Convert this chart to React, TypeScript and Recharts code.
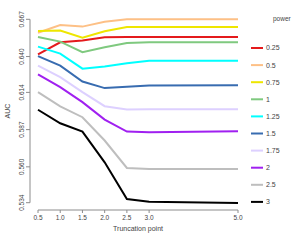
import { LineChart, Line, XAxis, YAxis, Legend, ReferenceLine } from "recharts";

const truncation = [0.5, 1, 1.5, 2, 2.5, 3, 5];
const xTicks = [0.5, 1, 1.5, 2, 2.5, 3, 5];
const yTicks = [0.534, 0.56, 0.587, 0.614, 0.64, 0.667];

const powers = ["0.25", "0.5", "0.75", "1", "1.25", "1.5", "1.75", "2", "2.5", "3"];
const colors = [
  "#E41A1C",
  "#FDC086",
  "#EEE600",
  "#7FC97F",
  "#00FFFF",
  "#386CB0",
  "#DDD0FF",
  "#A020F0",
  "#BEBEBE",
  "#000000",
];

const auc025 = [0.6416, 0.6503, 0.6517, 0.6539, 0.6541, 0.6541, 0.6541];
const auc05 = [0.6573, 0.6629, 0.6617, 0.6653, 0.667, 0.667, 0.667];
const auc075 = [0.6585, 0.6588, 0.6537, 0.6583, 0.6614, 0.6614, 0.6614];
const auc1 = [0.6541, 0.6508, 0.6432, 0.6467, 0.6498, 0.6503, 0.6503];
const auc125 = [0.6472, 0.6421, 0.6312, 0.6328, 0.6352, 0.637, 0.637];
const auc15 = [0.6403, 0.6334, 0.6219, 0.6171, 0.6181, 0.619, 0.6192];
const auc175 = [0.6334, 0.6251, 0.6142, 0.604, 0.6016, 0.6017, 0.6017];
const auc2 = [0.627, 0.6178, 0.6069, 0.5943, 0.5856, 0.5851, 0.5858];
const auc25 = [0.6142, 0.6038, 0.596, 0.5791, 0.5592, 0.5585, 0.5585];
const auc3 = [0.6014, 0.5916, 0.5856, 0.5633, 0.5367, 0.5347, 0.5338];

const series = [auc025, auc05, auc075, auc1, auc125, auc15, auc175, auc2, auc25, auc3];

const data = truncation.map((t, i) => {
  const row: Record<string, number> = { t };
  powers.forEach((p, k) => {
    row["p" + p] = series[k][i];
  });
  return row;
});

const FONT = "'Liberation Sans', Arial, sans-serif";
const AXIS = "#8c8c8c";
const TEXT = "#444";

const xMin = 0.32;
const xMax = 5.18;
const yMin = 0.5287;
const yMax = 0.6723;

function XTick({ x, y, payload }: any) {
  return (
    <text x={x} y={y + 5} textAnchor="middle" fontSize={6.5} fontFamily={FONT} fill={TEXT}>
      {Number(payload.value).toFixed(1)}
    </text>
  );
}

function YTick({ x, y, payload }: any) {
  return (
    <text
      x={x}
      y={y}
      transform={`rotate(-90 ${x} ${y})`}
      textAnchor="middle"
      fontSize={6.5}
      fontFamily={FONT}
      fill={TEXT}
    >
      {Number(payload.value).toFixed(3)}
    </text>
  );
}

function PowerLegend() {
  return (
    <svg width={55} height={215} style={{ display: "block" }}>
      <text x={28} y={21} fontSize={6.5} fontFamily={FONT} fill={TEXT}>
        power
      </text>
      {powers.map((p, i) => {
        const cy = 48 + i * 17.1;
        return (
          <g key={p}>
            <line x1={6} x2={18} y1={cy} y2={cy} stroke={colors[i]} strokeWidth={2} />
            <text x={21} y={cy + 2.4} fontSize={7} fontFamily={FONT} fill={TEXT}>
              {p}
            </text>
          </g>
        );
      })}
    </svg>
  );
}

export default function App() {
  return (
    <div style={{ position: "absolute", left: 0, top: 0, width: 300, height: 240, background: "#fff" }}>
      <LineChart
        width={300}
        height={240}
        data={data}
        margin={{ top: 12, right: 54, bottom: 0, left: 0 }}
      >
        <XAxis
          dataKey="t"
          type="number"
          domain={[xMin, xMax]}
          ticks={xTicks}
          interval={0}
          allowDataOverflow
          height={30}
          axisLine={false}
          tickLine={{ stroke: AXIS }}
          tickSize={3}
          tickMargin={2}
          tick={<XTick />}
          label={(props: any) => {
            const vb = props.viewBox;
            return (
              <text
                x={vb.x + vb.width / 2}
                y={230.5}
                textAnchor="middle"
                fontSize={7}
                fontFamily={FONT}
                fill={TEXT}
              >
                Truncation point
              </text>
            );
          }}
        />
        <YAxis
          type="number"
          domain={[yMin, yMax]}
          ticks={yTicks}
          interval={0}
          allowDataOverflow
          width={30}
          axisLine={false}
          tickLine={{ stroke: AXIS }}
          tickSize={4}
          tickMargin={2}
          tick={<YTick />}
          label={(props: any) => {
            const vb = props.viewBox;
            const cy = vb.y + vb.height / 2;
            return (
              <text
                x={10}
                y={cy}
                transform={`rotate(-90 10 ${cy})`}
                textAnchor="middle"
                fontSize={7}
                fontFamily={FONT}
                fill={TEXT}
              >
                AUC
              </text>
            );
          }}
        />
        <ReferenceLine
          segment={[
            { x: xMin, y: yTicks[0] },
            { x: xMin, y: yTicks[yTicks.length - 1] },
          ]}
          stroke={AXIS}
          strokeWidth={1}
          ifOverflow="visible"
        />
        <ReferenceLine
          segment={[
            { x: xTicks[0], y: yMin },
            { x: xTicks[xTicks.length - 1], y: yMin },
          ]}
          stroke={AXIS}
          strokeWidth={1}
          ifOverflow="visible"
        />
        <Legend
          layout="vertical"
          align="center"
          verticalAlign="middle"
          wrapperStyle={{ left: 245, top: 0, width: 55, height: 215 }}
          content={() => <PowerLegend />}
        />
        {powers.map((p, i) => (
          <Line
            key={p}
            dataKey={"p" + p}
            name={p}
            type="linear"
            stroke={colors[i]}
            strokeWidth={2}
            dot={false}
            activeDot={false}
            isAnimationActive={false}
          />
        ))}
      </LineChart>
    </div>
  );
}
